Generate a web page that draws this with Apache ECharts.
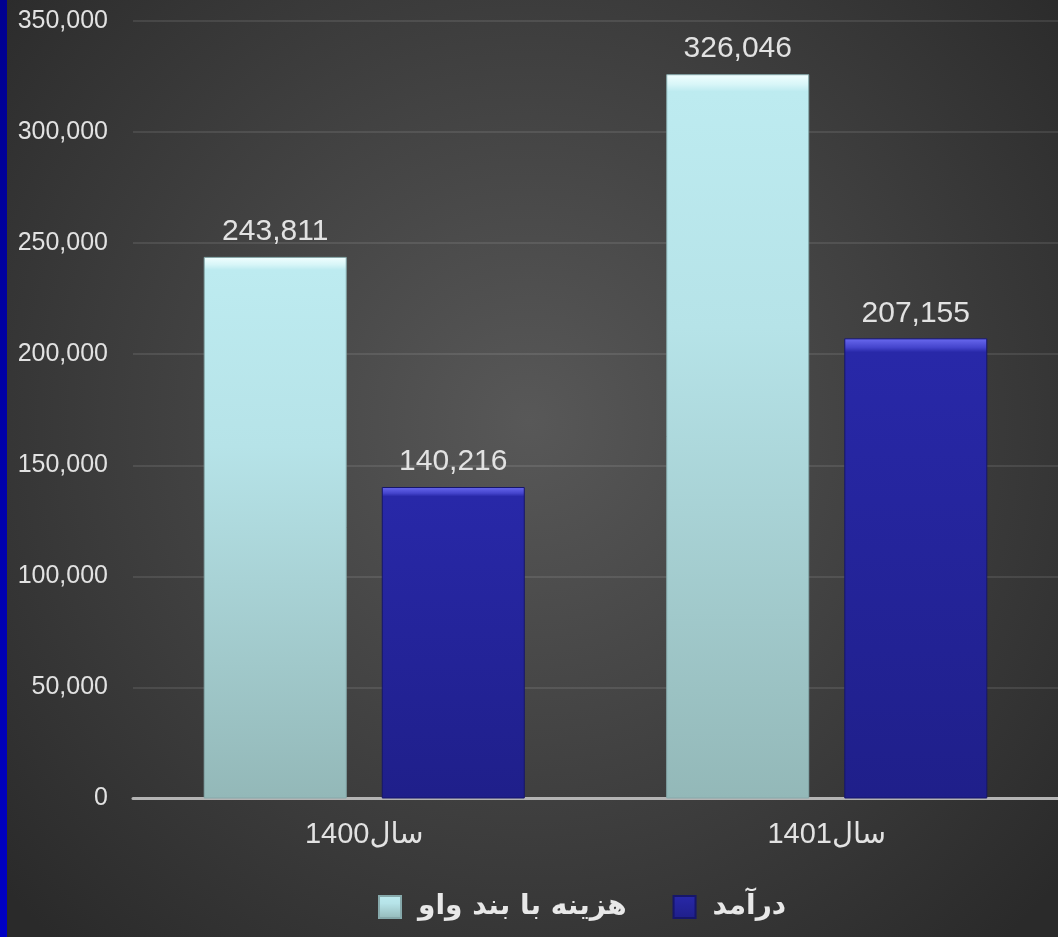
<!DOCTYPE html>
<html>
<head>
<meta charset="utf-8">
<style>
  html, body { margin: 0; padding: 0; background: #2a2a2a; }
  #chart { width: 1058px; height: 937px; }
</style>
<script src="https://cdn.jsdelivr.net/npm/echarts@6/dist/echarts.min.js"></script>
</head>
<body>
<div id="chart"></div>
<script>
// ---- data ----
const categories = ['سال1400', 'سال1401'];
const seriesNames = ['هزینه با بند واو', 'درآمد'];
const costValues = [243811, 326046];
const incomeValues = [140216, 207155];
const yMin = 0, yMax = 350000, yInterval = 50000;

const chart = echarts.init(document.getElementById('chart'));

const cyanFill = {
  type: 'linear', x: 0, y: 0, x2: 0, y2: 1,
  colorStops: [
    { offset: 0, color: '#f2ffff' },
    { offset: 0.014, color: '#d8f6f8' },
    { offset: 0.024, color: '#bdebf0' },
    { offset: 0.35, color: '#b6e3e8' },
    { offset: 1, color: '#93b8b8' }
  ]
};
const blueFill = {
  type: 'linear', x: 0, y: 0, x2: 0, y2: 1,
  colorStops: [
    { offset: 0, color: '#6a6af0' },
    { offset: 0.02, color: '#4444cc' },
    { offset: 0.03, color: '#2828a8' },
    { offset: 1, color: '#1f1f8a' }
  ]
};

const labelStyle = {
  show: true,
  position: 'top',
  distance: 10,
  color: '#e2e2e2',
  fontFamily: 'Liberation Sans, Arial, sans-serif',
  fontSize: 30,
  formatter: p => p.value.toLocaleString('en-US')
};

chart.setOption({
  animation: false,
  backgroundColor: {
    type: 'radial', x: 0.5, y: 0.45, r: 0.75,
    colorStops: [
      { offset: 0, color: '#585858' },
      { offset: 1, color: '#2a2a2a' }
    ]
  },
  graphic: [{
    type: 'rect',
    left: 0, top: 0,
    shape: { width: 7, height: 937 },
    style: {
      fill: {
        type: 'linear', x: 0, y: 0, x2: 0, y2: 1,
        colorStops: [{ offset: 0, color: '#000090' }, { offset: 1, color: '#0000c4' }]
      }
    },
    z: 10
  }],
  grid: { left: 133, right: 0, top: 21, bottom: 138.5, containLabel: false },
  legend: {
    data: seriesNames,
    left: 373,
    top: 888,
    itemWidth: 22,
    itemHeight: 22,
    itemGap: 46,
    icon: 'rect',
    textStyle: {
      color: '#e8e8e8',
      fontSize: 28,
      fontWeight: 'bold',
      fontFamily: 'DejaVu Sans, sans-serif',
      padding: [0, 0, 0, 12]
    }
  },
  xAxis: {
    type: 'category',
    data: categories,
    axisLine: { show: true, lineStyle: { color: '#b4b4b4', width: 3 } },
    axisTick: { show: false },
    axisLabel: {
      color: '#e2e2e2',
      fontSize: 29,
      fontFamily: 'Liberation Sans, Arial, DejaVu Sans, sans-serif',
      margin: 22
    }
  },
  yAxis: {
    type: 'value',
    min: yMin,
    max: yMax,
    interval: yInterval,
    axisLine: { show: false },
    axisTick: { show: false },
    splitLine: { lineStyle: { color: 'rgba(255,255,255,0.13)', width: 1.5 } },
    axisLabel: {
      color: '#e2e2e2',
      fontSize: 25,
      fontFamily: 'Liberation Sans, Arial, sans-serif',
      margin: 25,
      formatter: v => v.toLocaleString('en-US')
    }
  },
  series: [
    {
      name: seriesNames[0],
      type: 'bar',
      data: costValues,
      barWidth: 143,
      barGap: '24.5%',
      itemStyle: { color: cyanFill, borderColor: '#86a9ab', borderWidth: 1 },
      label: labelStyle
    },
    {
      name: seriesNames[1],
      type: 'bar',
      data: incomeValues,
      barWidth: 143,
      barGap: '24.5%',
      itemStyle: { color: blueFill, borderColor: '#16166a', borderWidth: 1 },
      label: labelStyle
    }
  ]
});
</script>
</body>
</html>
